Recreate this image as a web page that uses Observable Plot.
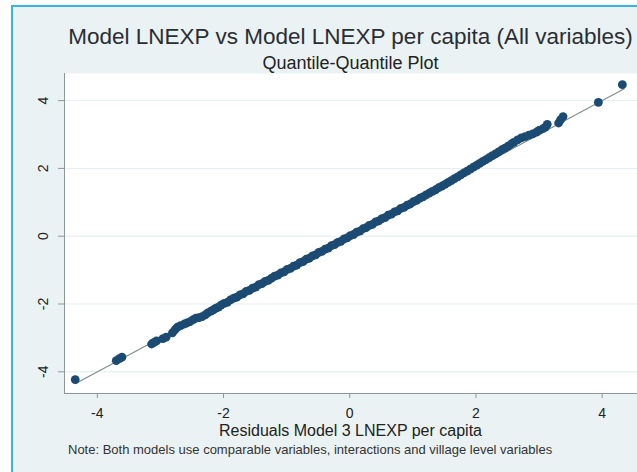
<!DOCTYPE html>
<html>
<head>
<meta charset="utf-8">
<script src="https://cdn.jsdelivr.net/npm/d3@7"></script>
<script src="https://cdn.jsdelivr.net/npm/@observablehq/plot@0.6"></script>
<style>
  html, body { margin: 0; padding: 0; background: #fff; }
  #page { position: relative; width: 637px; height: 472px; overflow: hidden; background: #fff;
          font-family: "Liberation Sans", Arial, sans-serif; }
  #panel { position: absolute; left: 11px; top: 5px; right: -6px; bottom: -6px;
           background: #eaf2f3; border-top: 2px solid #38b3e6; border-left: 2px solid #38b3e6; }
  .txt { position: absolute; white-space: nowrap; line-height: 1; }
  .center { left: 64px; width: 573px; text-align: center; }
  #chart { position: absolute; left: 0; top: 66px; }
</style>
</head>
<body>
<div id="page">
  <div id="panel"></div>
  <div class="txt center" id="title" style="top:26px;font-size:22.5px;color:#2a2e34">Model LNEXP vs Model LNEXP per capita (All variables)</div>
  <div class="txt center" id="subtitle" style="top:54px;font-size:18px;color:#222">Quantile-Quantile Plot</div>
  <div id="chart"></div>
  <div class="txt center" id="xtitle" style="top:422.5px;font-size:16px;color:#222">Residuals Model 3 LNEXP per capita</div>
  <div class="txt" id="note" style="left:68px;top:443px;font-size:13px;color:#333">Note: Both models use comparable variables, interactions and village level variables</div>
</div>
<script>
// Quantiles of the two residual series (x: Model 3 LNEXP per capita, y: Model LNEXP)
const qqX = [
  -4.35, -3.70, -3.65, -3.61, -3.14, -3.10, -3.06, -2.96, -2.91, -2.81, -2.77, -2.73, -2.68,
  -2.62, -2.58, -2.53, -2.48, -2.44, -2.39, -2.34, -2.29, -2.25, -2.20, -2.16, -2.12, -2.08,
  -2.04, -1.99, -1.94, -1.89, -1.84, -1.79, -1.74, -1.69, -1.64, -1.59, -1.54, -1.49, -1.44,
  -1.39, -1.34, -1.29, -1.24, -1.19, -1.14, -1.09, -1.04, -0.99, -0.94, -0.89, -0.84, -0.79,
  -0.74, -0.69, -0.64, -0.59, -0.54, -0.49, -0.44, -0.39, -0.34, -0.29, -0.24, -0.19, -0.14,
  -0.09, -0.04, 0.01, 0.06, 0.11, 0.16, 0.21, 0.26, 0.31, 0.36, 0.41, 0.46, 0.51, 0.56,
  0.61, 0.66, 0.71, 0.76, 0.81, 0.86, 0.91, 0.96, 1.01, 1.06, 1.11, 1.16, 1.21, 1.26,
  1.31, 1.36, 1.41, 1.46, 1.51, 1.56, 1.61, 1.66, 1.71, 1.76, 1.81, 1.86, 1.91, 1.96,
  2.01, 2.06, 2.11, 2.16, 2.21, 2.26, 2.31, 2.36, 2.41, 2.46,
  2.51, 2.56, 2.60, 2.66, 2.72, 2.78, 2.84, 2.90, 2.96, 3.00, 3.06, 3.10, 3.13,
  3.31, 3.34, 3.38, 3.94, 4.32
];
const qqY = [
  -4.23, -3.67, -3.61, -3.57, -3.18, -3.13, -3.09, -3.02, -2.98, -2.85, -2.76, -2.68, -2.64,
  -2.59, -2.56, -2.52, -2.46, -2.42, -2.40, -2.37, -2.32, -2.26, -2.21, -2.17, -2.12, -2.09,
  -2.03, -1.98, -1.95, -1.88, -1.83, -1.80, -1.73, -1.70, -1.63, -1.60, -1.53, -1.50, -1.43,
  -1.40, -1.33, -1.30, -1.24, -1.18, -1.15, -1.08, -1.05, -0.98, -0.95, -0.88, -0.85, -0.78,
  -0.75, -0.68, -0.65, -0.58, -0.55, -0.48, -0.45, -0.38, -0.35, -0.28, -0.25, -0.18, -0.15,
  -0.08, -0.05, 0.02, 0.05, 0.12, 0.15, 0.22, 0.25, 0.32, 0.35, 0.42, 0.45, 0.52, 0.55,
  0.62, 0.65, 0.72, 0.75, 0.82, 0.85, 0.92, 0.95, 1.02, 1.06, 1.12, 1.16, 1.22, 1.27,
  1.32, 1.37, 1.43, 1.48, 1.53, 1.59, 1.64, 1.70, 1.75, 1.81, 1.87, 1.92, 1.98, 2.04,
  2.09, 2.15, 2.21, 2.26, 2.32, 2.38, 2.43, 2.49, 2.55, 2.60,
  2.66, 2.72, 2.77, 2.84, 2.90, 2.94, 2.98, 3.02, 3.07, 3.12, 3.17, 3.22, 3.30,
  3.34, 3.43, 3.53, 3.95, 4.47
];
// 45-degree reference line endpoints
const refLine = [-4.35, 4.35];
// Axis ticks and their labels
const xTicks = [-4, -2, 0, 2, 4];
const xTickLabels = ["-4", "-2", "0", "2", "4"];
const yTicks = [-4, -2, 0, 2, 4];
const yTickLabels = ["-4", "-2", "0", "2", "4"];

const points = qqX.map((x, i) => ({x, y: qqY[i]}));
const axisGray = "#8d979b";

const chart = Plot.plot({
  width: 637,
  height: 360,
  marginTop: 7,
  marginBottom: 33,
  marginLeft: 64,
  marginRight: 0,
  style: {background: "transparent", fontFamily: "'Liberation Sans', Arial, sans-serif", color: "#222"},
  x: {domain: [-4.52, 4.56], axis: null},
  y: {domain: [-4.64, 4.8], axis: null},
  marks: [
    Plot.frame({fill: "white", stroke: null}),
    Plot.gridY(yTicks, {stroke: "#e4edf0", strokeOpacity: 1, strokeWidth: 1}),
    Plot.line(refLine, {x: d => d, y: d => d, stroke: "#7d8d86", strokeWidth: 1.1}),
    Plot.dot(points, {x: "x", y: "y", r: 4.4, fill: "#1b4a72", stroke: null}),
    Plot.frame({anchor: "left", stroke: axisGray}),
    Plot.frame({anchor: "bottom", stroke: axisGray}),
    Plot.axisX(xTicks, {
      anchor: "bottom", label: null, tickSize: 5, tickPadding: 10, fontSize: 14,
      tickFormat: d => xTickLabels[xTicks.indexOf(d)], stroke: axisGray, fill: "#222"
    }),
    Plot.axisY(yTicks, {
      anchor: "left", label: null, tickSize: 6, tickFormat: () => "", stroke: axisGray
    }),
    Plot.text(yTicks, {
      y: d => d, text: d => yTickLabels[yTicks.indexOf(d)], frameAnchor: "left",
      dx: -21, rotate: -90, textAnchor: "middle", lineAnchor: "middle", fontSize: 14, fill: "#222"
    })
  ]
});
document.getElementById("chart").appendChild(chart);
</script>
</body>
</html>
